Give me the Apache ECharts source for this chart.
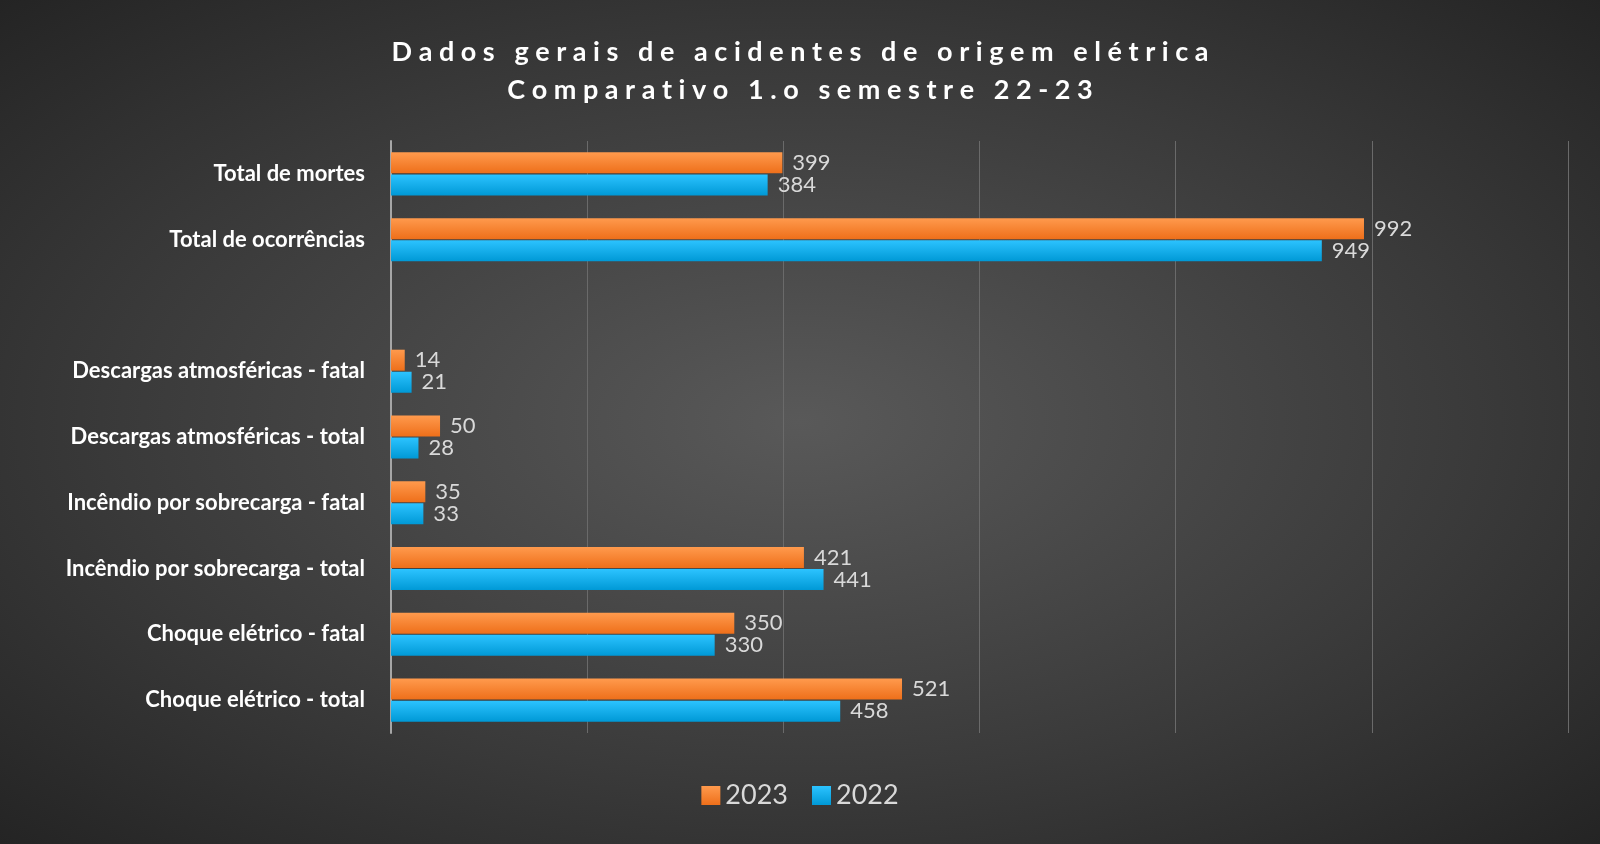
<!DOCTYPE html>
<html>
<head>
<meta charset="utf-8">
<script src="https://cdn.jsdelivr.net/npm/echarts@6/dist/echarts.min.js"></script>
<style>
html,body{margin:0;padding:0;}
#chart{width:1600px;height:844px;background:radial-gradient(ellipse at center,#595959 0%,#3a3a3a 60%,#242424 100%);}
</style>
</head>
<body>
<div id="chart"></div>
<script>
// categories listed bottom to top
var categories = [
	'Choque elétrico - total',
	'Choque elétrico - fatal',
	'Incêndio por sobrecarga - total',
	'Incêndio por sobrecarga - fatal',
	'Descargas atmosféricas - total',
	'Descargas atmosféricas - fatal',
	'',
	'Total de ocorrências',
	'Total de mortes'
];
var values2023 = [521, 350, 421, 35, 50, 14, null, 992, 399];
var values2022 = [458, 330, 441, 33, 28, 21, null, 949, 384];

var myChart = echarts.init(document.getElementById('chart'));

function grad(c1, c2) {
	return new echarts.graphic.LinearGradient(0, 0, 0, 1, [
		{offset: 0, color: c1},
		{offset: 1, color: c2}
	]);
}

var labelStyle = {
	show: true,
	position: 'right',
	distance: 10,
	color: '#d9d9d9',
	fontSize: 22,
	fontFamily: 'Lato'
};

var option = {
	textStyle: {fontFamily: 'Lato'},
	title: {
		text: 'D a d o s   g e r a i s   d e   a c i d e n t e s   d e   o r i g e m   e l é t r i c a\nC o m p a r a t i v o   1 . o   s e m e s t r e   2 2 - 2 3',
		left: 'center',
		top: 28,
		textStyle: {
			color: '#ffffff',
			fontSize: 27,
			fontWeight: 'bold',
			lineHeight: 38,
			fontFamily: 'Lato',
			// shrink spacing: render with narrow font spacing
			textBorderWidth: 0
		}
	},
	legend: {
		data: ['2023', '2022'],
		bottom: 30,
		left: 'center',
		itemWidth: 19,
		itemHeight: 19,
		itemGap: 24,
		icon: 'rect',
		textStyle: {color: '#d9d9d9', fontSize: 27, fontFamily: 'Lato'}
	},
	grid: {left: 391, right: 32, top: 141, bottom: 111, containLabel: false},
	xAxis: {
		type: 'value',
		min: 0,
		max: 1200,
		interval: 200,
		axisLabel: {show: false},
		axisLine: {show: false},
		axisTick: {show: false},
		splitLine: {lineStyle: {color: '#6a6a6a', width: 1}}
	},
	yAxis: {
		type: 'category',
		data: categories,
		axisLine: {lineStyle: {color: '#a6a6a6', width: 2}},
		axisTick: {show: false},
		axisLabel: {color: '#ffffff', fontSize: 22, fontWeight: 'bold', margin: 26, fontFamily: 'Lato'}
	},
	series: [{
		name: '2023',
		type: 'bar',
		data: values2023,
		barWidth: 21,
		barGap: '5%',
		itemStyle: {color: grad('#ff9a4d', '#ee6f1a')},
		label: labelStyle
	}, {
		name: '2022',
		type: 'bar',
		data: values2022,
		barWidth: 21,
		barGap: '5%',
		itemStyle: {color: grad('#2cc3ff', '#0099d6')},
		label: labelStyle
	}]
};
myChart.setOption(option);
window.onresize = function() {
	myChart.resize();
};
</script>
</body>
</html>
